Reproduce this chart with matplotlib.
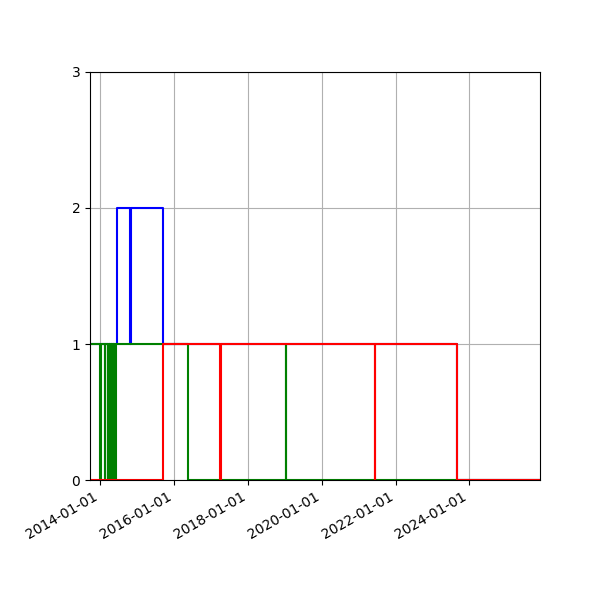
import pandas as pd
import matplotlib
matplotlib.use("Agg")
import matplotlib.pyplot as plt
import matplotlib.dates as mdates

# step series: dates where the value changes, and the value from that date on
blue_dates = ["2013-09-21", "2014-06-12", "2014-10-22", "2014-10-30", "2015-09-09",
              "2023-09-06", "2025-12-01"]
blue_vals = [1, 2, 1, 2, 1, 0, 0]

green_dates = ["2013-09-21",
               "2014-01-02", "2014-01-09",
               "2014-02-15", "2014-02-16",
               "2014-03-18", "2014-03-20", "2014-03-22", "2014-03-24",
               "2014-03-26", "2014-03-28", "2014-03-30", "2014-04-01",
               "2014-04-03", "2014-04-05", "2014-04-07", "2014-04-09",
               "2014-04-11", "2014-04-13", "2014-04-15", "2014-04-17",
               "2014-04-19", "2014-04-21", "2014-04-23", "2014-04-25",
               "2014-04-27", "2014-04-29", "2014-05-01", "2014-05-03",
               "2014-05-05", "2014-05-07", "2014-05-09", "2014-05-11",
               "2014-05-13", "2014-05-15", "2014-05-17", "2014-05-19",
               "2014-05-21", "2014-05-23", "2014-05-25", "2014-05-27",
               "2014-05-29", "2014-06-01",
               "2016-05-18",
               "2019-01-09", "2019-01-15",
               "2025-12-01"]
green_vals = [1,
              0, 1,
              0, 1,
              0, 1, 0, 1,
              0, 1, 0, 1,
              0, 1, 0, 1,
              0, 1, 0, 1,
              0, 1, 0, 1,
              0, 1, 0, 1,
              0, 1, 0, 1,
              0, 1, 0, 1,
              0, 1, 0, 1,
              0, 1,
              0,
              1, 0,
              0]

red_dates = ["2013-09-21", "2015-09-09", "2017-03-30", "2017-04-10",
             "2021-06-10", "2021-06-15", "2023-09-01", "2025-12-01"]
red_vals = [0, 1, 0, 1, 0, 1, 0, 0]

fig = plt.figure(figsize=(6, 6), dpi=100)
ax = fig.add_axes([0.15, 0.2, 0.75, 0.68])

ax.plot(pd.to_datetime(blue_dates), blue_vals, color="blue", drawstyle="steps-post")
ax.plot(pd.to_datetime(green_dates), green_vals, color="green", drawstyle="steps-post")
ax.plot(pd.to_datetime(red_dates), red_vals, color="red", drawstyle="steps-post")

ax.set_xlim(pd.Timestamp("2013-09-21"), pd.Timestamp("2025-12-01"))
ax.set_ylim(0, 3)
ax.set_yticks([0, 1, 2, 3])
ax.xaxis.set_major_locator(mdates.YearLocator(2))
ax.xaxis.set_major_formatter(mdates.DateFormatter("%Y-%m-%d"))
ax.grid(True)
plt.setp(ax.get_xticklabels(), rotation=30, ha="right")

fig.savefig("out.png")
